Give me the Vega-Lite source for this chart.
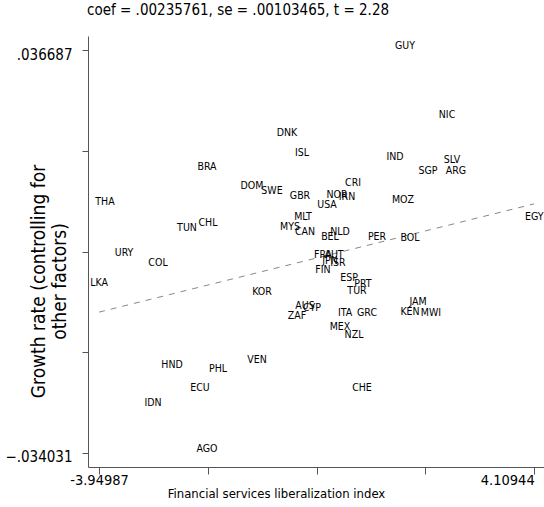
{
  "$schema": "https://vega.github.io/schema/vega-lite/v6.json",
  "width": 456,
  "height": 431,
  "autosize": {"type": "none"},
  "padding": {"left": 88, "top": 36, "right": 0, "bottom": 40},
  "background": "white",
  "view": {"stroke": null},
  "config": {
    "font": "Liberation Sans Narrow, DejaVu Sans Condensed, Arial Narrow, sans-serif"
  },
  "title": {
    "text": "coef = .00235761, se = .00103465, t = 2.28",
    "anchor": "start",
    "frame": "group",
    "dx": -1,
    "fontSize": 15,
    "fontWeight": "normal",
    "color": "black",
    "baseline": "middle",
    "offset": 11
  },
  "encoding": {
    "x": {
      "field": "x",
      "type": "quantitative",
      "scale": {"domain": [-4.15357, 4.29087], "nice": false, "zero": false},
      "axis": {
        "values": [-3.94987, -1.93504, 0.07979, 2.09461, 4.10944],
        "labelExpr": "datum.value < -3 || datum.value > 4 ? replace(format(datum.value, '.6'), '\u2212', '-') : ''",
        "grid": false,
        "domainColor": "#555",
        "tickColor": "#555",
        "tickSize": 7,
        "labelFontSize": 14.5,
        "labelColor": "black",
        "labelPadding": 6,
        "labelBaseline": "middle",
        "labelFlush": false,
        "labelOverlap": false,
        "labelAlign": {"condition": {"test": "datum.value > 4", "value": "right"}, "value": "center"},
        "title": "Financial services liberalization index",
        "titleFontSize": 13,
        "titleFontWeight": "normal",
        "titleColor": "black",
        "titleX": 188,
        "titleY": 26,
        "titleBaseline": "middle"
      }
    },
    "y": {
      "field": "y",
      "type": "quantitative",
      "scale": {"domain": [-0.036488, 0.039144], "nice": false, "zero": false},
      "axis": {
        "values": [-0.034031, -0.016352, 0.001328, 0.019007, 0.036687],
        "labelExpr": "abs(datum.value) > 0.03 ? replace(format(datum.value, '.5'), '0.', '.') : ''",
        "grid": false,
        "domainColor": "#555",
        "tickColor": "#555",
        "tickSize": 6,
        "labelFontSize": 15,
        "labelColor": "black",
        "labelPadding": 10,
        "labelOffset": 4,
        "labelOverlap": false,
        "labelFlush": false,
        "title": ["Growth rate (controlling for", "other factors)"],
        "titleFontSize": 19,
        "titleFontWeight": "normal",
        "titleColor": "black",
        "titleLineHeight": 21,
        "titleX": -50,
        "titleY": 245,
        "titleBaseline": "middle"
      }
    }
  },
  "layer": [
    {
      "data": {"values": [{"x": -3.94987, "y": -0.009312}, {"x": 4.10944, "y": 0.009689}]},
      "mark": {"type": "line", "strokeDash": [6, 6], "color": "#888", "strokeWidth": 1}
    },
    {
      "data": {"values": [
        {"country": "GUY", "x": 1.7168, "y": 0.036687},
        {"country": "NIC", "x": 2.4946, "y": 0.024579},
        {"country": "DNK", "x": -0.4684, "y": 0.021421},
        {"country": "ISL", "x": -0.1906, "y": 0.017911},
        {"country": "IND", "x": 1.5316, "y": 0.017209},
        {"country": "SLV", "x": 2.5871, "y": 0.016683},
        {"country": "BRA", "x": -1.9499, "y": 0.015454},
        {"country": "SGP", "x": 2.1427, "y": 0.014753},
        {"country": "ARG", "x": 2.6612, "y": 0.014753},
        {"country": "CRI", "x": 0.7538, "y": 0.012647},
        {"country": "DOM", "x": -1.1166, "y": 0.01212},
        {"country": "SWE", "x": -0.7462, "y": 0.011243},
        {"country": "GBR", "x": -0.2277, "y": 0.010365},
        {"country": "NOR", "x": 0.4575, "y": 0.010541},
        {"country": "IRN", "x": 0.6427, "y": 0.01019},
        {"country": "USA", "x": 0.2723, "y": 0.008786},
        {"country": "MOZ", "x": 1.6797, "y": 0.009664},
        {"country": "THA", "x": -3.8388, "y": 0.009313},
        {"country": "EGY", "x": 4.10944, "y": 0.00668},
        {"country": "MLT", "x": -0.1721, "y": 0.00668},
        {"country": "CHL", "x": -1.9314, "y": 0.005627},
        {"country": "TUN", "x": -2.3203, "y": 0.00475},
        {"country": "MYS", "x": -0.4129, "y": 0.004926},
        {"country": "CAN", "x": -0.1351, "y": 0.004048},
        {"country": "NLD", "x": 0.5131, "y": 0.004048},
        {"country": "BEL", "x": 0.3279, "y": 0.003171},
        {"country": "PER", "x": 1.1982, "y": 0.003171},
        {"country": "BOL", "x": 1.8094, "y": 0.002995},
        {"country": "URY", "x": -3.4869, "y": 0.000363},
        {"country": "FRA", "x": 0.1983, "y": 0.000012},
        {"country": "AUT", "x": 0.402, "y": 0.000012},
        {"country": "JPN", "x": 0.3279, "y": -0.001041},
        {"country": "ISR", "x": 0.4761, "y": -0.001392},
        {"country": "COL", "x": -2.8573, "y": -0.001392},
        {"country": "FIN", "x": 0.1983, "y": -0.00262},
        {"country": "ESP", "x": 0.6797, "y": -0.004024},
        {"country": "PRT", "x": 0.939, "y": -0.005077},
        {"country": "LKA", "x": -3.94987, "y": -0.004901},
        {"country": "TUR", "x": 0.8279, "y": -0.006305},
        {"country": "KOR", "x": -0.9314, "y": -0.006481},
        {"country": "JAM", "x": 1.9575, "y": -0.008235},
        {"country": "AUS", "x": -0.1351, "y": -0.008937},
        {"country": "CYP", "x": -0.0054, "y": -0.009288},
        {"country": "ZAF", "x": -0.2832, "y": -0.010692},
        {"country": "KEN", "x": 1.8094, "y": -0.00999},
        {"country": "MWI", "x": 2.1982, "y": -0.010166},
        {"country": "ITA", "x": 0.6057, "y": -0.010166},
        {"country": "GRC", "x": 1.0131, "y": -0.010166},
        {"country": "MEX", "x": 0.5131, "y": -0.012622},
        {"country": "NZL", "x": 0.7723, "y": -0.014026},
        {"country": "VEN", "x": -1.024, "y": -0.018413},
        {"country": "HND", "x": -2.598, "y": -0.019291},
        {"country": "PHL", "x": -1.7462, "y": -0.019993},
        {"country": "ECU", "x": -2.0795, "y": -0.023327},
        {"country": "CHE", "x": 0.9205, "y": -0.023327},
        {"country": "IDN", "x": -2.9499, "y": -0.025959},
        {"country": "AGO", "x": -1.9499, "y": -0.034031}
      ]},
      "mark": {"type": "text", "fontSize": 10.5, "dy": -4, "align": "center", "baseline": "middle", "color": "black"},
      "encoding": {"text": {"field": "country", "type": "nominal"}}
    }
  ]
}
